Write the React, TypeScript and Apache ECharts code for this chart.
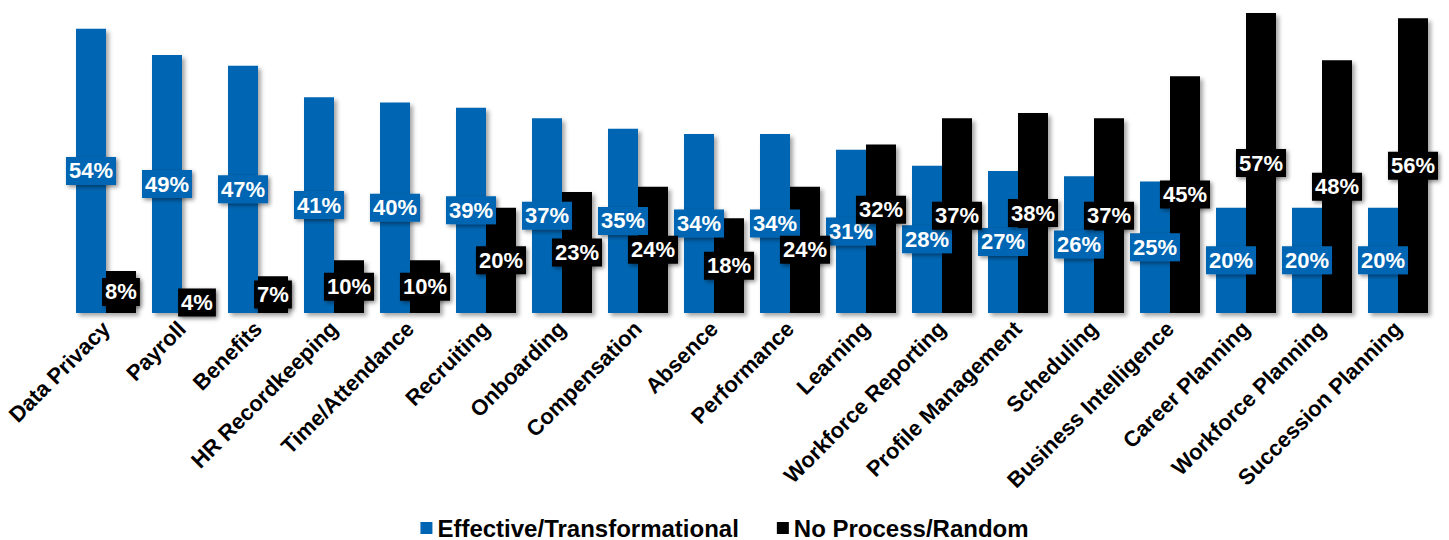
import React, { useEffect, useRef } from "react";
import * as echarts from "echarts";

const categories = [
  "Data Privacy", "Payroll", "Benefits", "HR Recordkeeping", "Time/Attendance",
  "Recruiting", "Onboarding", "Compensation", "Absence", "Performance",
  "Learning", "Workforce Reporting", "Profile Management", "Scheduling",
  "Business Intelligence", "Career Planning", "Workforce Planning", "Succession Planning",
];
const effectiveValues = [54, 49, 47, 41, 40, 39, 37, 35, 34, 34, 31, 28, 27, 26, 25, 20, 20, 20];
const noProcessValues = [8, 4, 7, 10, 10, 20, 23, 24, 18, 24, 32, 37, 38, 37, 45, 57, 48, 56];
const seriesNames = ["Effective/Transformational", "No Process/Random"];

const BLUE = "#0066b3";
const BLACK = "#000000";
const FONT = 'Arial, "Liberation Sans", sans-serif';

function makeLabel(color: string) {
  return {
    show: true,
    position: "inside",
    formatter: "{c}%",
    color: "#ffffff",
    fontFamily: FONT,
    fontWeight: "bold",
    fontSize: 22,
    lineHeight: 24,
    backgroundColor: color,
    padding: [2, 3],
    shadowColor: "rgba(0,0,0,0.45)",
    shadowBlur: 4,
    shadowOffsetX: 2,
    shadowOffsetY: 2,
  };
}

export default function App() {
  const ref = useRef<HTMLDivElement>(null);
  useEffect(() => {
    if (!ref.current) return;
    const chart = echarts.init(ref.current, undefined, { renderer: "svg" });
    const barShadow = {
      shadowColor: "rgba(0,0,0,0.35)",
      shadowBlur: 4,
      shadowOffsetX: 3,
      shadowOffsetY: 3,
    };
    // The "Learning" black label sits raised above its bar centre in the reference
    const noProcessData = noProcessValues.map((v, i) =>
      categories[i] === "Learning" ? { value: v, label: { offset: [0, -19] } } : v
    );
    chart.setOption({
      animation: false,
      backgroundColor: "#ffffff",
      grid: { left: 68, width: 1368, top: 13, height: 300, containLabel: false },
      legend: {
        bottom: 0,
        left: "center",
        padding: 0,
        itemWidth: 12,
        itemHeight: 12,
        itemGap: 38,
        icon: "rect",
        textStyle: { fontFamily: FONT, fontWeight: "bold", fontSize: 24, color: "#000" },
        data: seriesNames,
      },
      xAxis: {
        type: "category",
        data: categories,
        axisLine: { show: false },
        axisTick: { show: false },
        axisLabel: {
          interval: 0,
          rotate: 45,
          margin: 12,
          fontFamily: FONT,
          fontWeight: "bold",
          fontSize: 22,
          color: "#000",
        },
      },
      yAxis: {
        type: "value",
        min: 0,
        max: 57,
        show: false,
        splitLine: { show: false },
      },
      series: [
        {
          name: seriesNames[0],
          type: "bar",
          data: effectiveValues,
          barWidth: 30,
          barGap: "0%",
          itemStyle: { color: BLUE, ...barShadow },
          label: makeLabel(BLUE),
        },
        {
          name: seriesNames[1],
          type: "bar",
          data: noProcessData,
          barWidth: 30,
          barGap: "0%",
          itemStyle: { color: BLACK, ...barShadow },
          label: makeLabel(BLACK),
        },
      ],
    });
    return () => chart.dispose();
  }, []);
  return (
    <div
      ref={ref}
      style={{ position: "fixed", left: 0, top: 0, width: 1449, height: 540, background: "#fff" }}
    />
  );
}
